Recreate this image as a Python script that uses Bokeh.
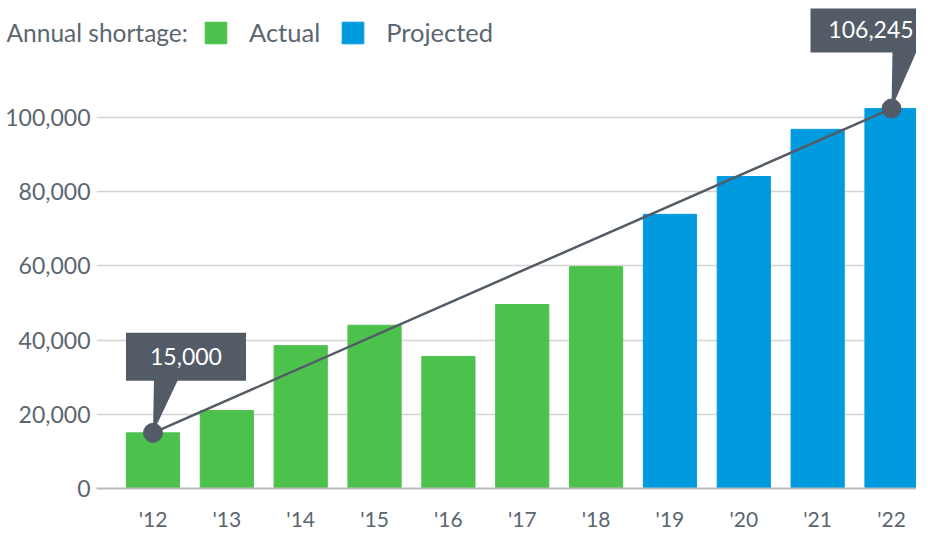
from bokeh.plotting import figure
from bokeh.models import (Range1d, FixedTicker, NumeralTickFormatter, Label,
                          Legend, LegendItem)
from bokeh.embed import file_html
from bokeh.resources import INLINE

# ---- data ----
years = ["'12", "'13", "'14", "'15", "'16", "'17", "'18", "'19", "'20", "'21", "'22"]
actual = [15000, 21000, 38500, 44000, 35600, 49600, 59800]
projected = [73900, 84100, 96800, 102400]
y_ticks = [0, 20000, 40000, 60000, 80000, 100000]
trend = [15000, 102400]            # trend line from '12 to '22
callout_text = ["15,000", "106,245"]

# ---- style ----
GREEN = "#4cc14b"
BLUE = "#009bde"
DARK = "#535c66"
TEXT = "#5b6670"
GRID = "#d4d4d4"
AXIS = "#b8bcc0"
FONT = "Lato"

ML, MB = 96, 39
FW, FH = 820, 480
x0 = -0.765
x1 = x0 + FW / 73.85
y0, y1 = 0, 129380

p = figure(frame_width=FW, frame_height=FH,
           x_range=Range1d(x0, x1), y_range=Range1d(y0, y1),
           output_backend="svg", toolbar_location=None,
           min_border_left=ML, min_border_right=0, min_border_top=0,
           min_border_bottom=MB, outline_line_color=None)

xa = list(range(len(actual)))
xp = list(range(len(actual), len(actual) + len(projected)))
ra = p.vbar(x=xa, top=actual, width=0.72, color=GREEN)
rp = p.vbar(x=xp, top=projected, width=0.72, color=BLUE)

# trend line
tx = [0, len(years) - 1]
p.line(x=tx, y=trend, line_color=DARK, line_width=2.5)

# pixel -> data helpers for callouts
sx = FW / (x1 - x0)
sy = FH / (y1 - y0)


def dx(px):
    return px / sx


def dy(px):
    return px / sy


# callout boxes: (left, right, bottom, top) in px relative to point
box_off = [(-27, 93, 52, 100), (-81, 40, 56, 103)]
for (xv, yv, txt, (l, r, b, t)) in zip(tx, trend, callout_text, box_off):
    p.quad(left=[xv + dx(l)], right=[xv + dx(r)], bottom=[yv + dy(b)],
           top=[yv + dy(t)], color=DARK, line_color=None)
    p.patch(x=[xv + dx(1), xv + dx(25), xv],
            y=[yv + dy(b + 1), yv + dy(b + 1), yv], color=DARK, line_color=None)
    p.add_layout(Label(x=xv + dx((l + r) / 2), y=yv + dy((b + t) / 2), text=txt,
                       text_align="center", text_baseline="middle",
                       text_color="white", text_font=FONT,
                       text_font_size="23px"))

p.scatter(x=tx, y=trend, size=19, color=DARK)

# legend
legend = Legend(items=[LegendItem(label="Actual", renderers=[ra]),
                       LegendItem(label="Projected", renderers=[rp])],
                orientation="horizontal", location=(106, 441),
                glyph_width=27, glyph_height=27, label_standoff=20, spacing=19,
                padding=0, margin=0, border_line_color=None,
                background_fill_alpha=0, label_text_font=FONT,
                label_text_font_size="25.5px", label_text_color=TEXT,
                label_text_baseline="middle")
p.add_layout(legend)

# legend heading as the plot title (zero-height panel, drawn over the frame top)
LH = 1.87
p.title.text = "\nAnnual shortage:"
p.title.text_line_height = LH
p.title.align = "left"
p.title.offset = -90
p.title.standoff = -77
p.title.vertical_align = "bottom"
p.title.text_font = FONT
p.title.text_font_size = "24.5px"
p.title.text_font_style = "normal"
p.title.text_color = TEXT

# axes
p.xgrid.visible = False
p.ygrid.ticker = FixedTicker(ticks=y_ticks)
p.ygrid.grid_line_color = GRID
p.ygrid.grid_line_width = 1.5

p.yaxis.ticker = FixedTicker(ticks=y_ticks)
p.yaxis.formatter = NumeralTickFormatter(format="0,0")
p.yaxis.axis_line_color = None
p.yaxis.major_tick_line_color = None
p.yaxis.minor_tick_line_color = None
p.yaxis.major_tick_out = 0
p.yaxis.minor_tick_out = 0
p.yaxis.major_label_standoff = 6
p.yaxis.major_label_text_font = FONT
p.yaxis.major_label_text_font_size = "23px"
p.yaxis.major_label_text_color = TEXT

p.xaxis.ticker = FixedTicker(ticks=list(range(len(years))))
p.xaxis.major_label_overrides = {i: y for i, y in enumerate(years)}
p.xaxis.axis_line_color = AXIS
p.xaxis.axis_line_width = 2
p.xaxis.major_tick_line_color = None
p.xaxis.minor_tick_line_color = None
p.xaxis.major_tick_out = 0
p.xaxis.major_tick_in = 0
p.xaxis.minor_tick_out = 0
p.xaxis.minor_tick_in = 0
p.xaxis.major_label_standoff = 17
p.xaxis.major_label_text_font = FONT
p.xaxis.major_label_text_font_size = "21px"
p.xaxis.major_label_text_color = TEXT

open("out.html", "w").write(file_html(p, INLINE))
